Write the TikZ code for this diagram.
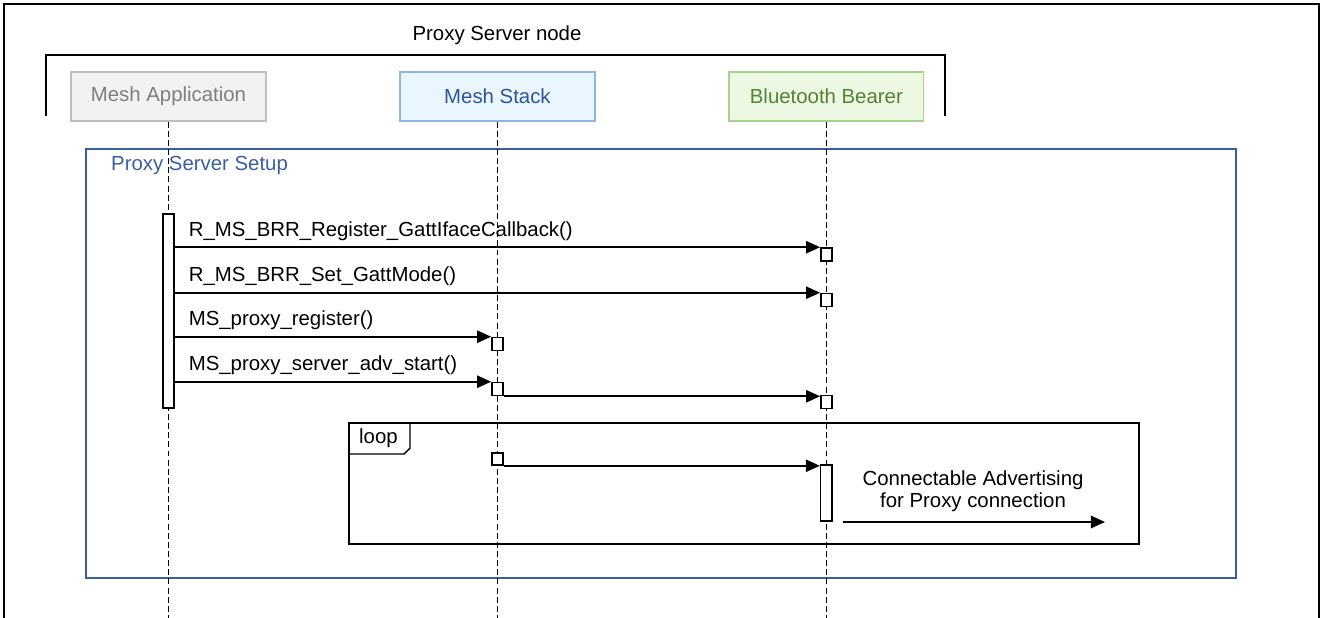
\documentclass[tikz,border=0pt]{standalone}
\usepackage{fontspec}
\setmainfont{Liberation Sans}
\usetikzlibrary{positioning,arrows.meta}
\definecolor{appline}{HTML}{BFBFBF}
\definecolor{appfill}{HTML}{F2F2F2}
\definecolor{apptext}{HTML}{7F7F7F}
\definecolor{stackline}{HTML}{8FB4E3}
\definecolor{stackfill}{HTML}{EAF6FD}
\definecolor{stacktext}{HTML}{2F5597}
\definecolor{bearerline}{HTML}{A9D18E}
\definecolor{bearerfill}{HTML}{EDF8E3}
\definecolor{bearertext}{HTML}{548235}
\definecolor{setupblue}{HTML}{3A5FA0}
\tikzstyle{head}=[
    draw,
    line width = 0.7pt,
    minimum width = 3.9cm,
    minimum height = 0.98cm,
    inner sep = 0pt
]
\tikzstyle{app head}=[head, draw = appline, fill = appfill, text = apptext]
\tikzstyle{stack head}=[head, draw = stackline, fill = stackfill, text = stacktext]
\tikzstyle{bearer head}=[head, draw = bearerline, fill = bearerfill, text = bearertext]
\tikzstyle{lifeline}=[line width = 0.85pt, dash pattern = on 3.4pt off 1.8pt]
\tikzstyle{bar}=[
    draw,
    fill = white,
    line width = 0.9pt,
    minimum width = 0.23cm,
    inner sep = 0pt
]
\tikzstyle{ack}=[bar, minimum width = 0.22cm, minimum height = 0.26cm]
\tikzstyle{call}=[-{Triangle[length=8pt,width=7pt]}, line width = 1pt]

\begin{document}
\begin{tikzpicture}[x=0.02cm, y=-0.02cm, node distance={6.58cm},
    font=\fontsize{11.6}{12.6}\selectfont]
        \useasboundingbox (0,0) rectangle (1322,618);

        % outer frame and node bracket
        \draw[line width = 1.2pt] (4,618) -- (4,4) -- (1319,4) -- (1319,618);
        \node (node label) at (497,35) {Proxy Server node};
        \draw[line width = 1.1pt] (46,116) -- (46,55) -- (945,55) -- (945,116);

        % lifeline heads
        \node[app head] (app) at (168.5,96.5) {Mesh Application};
        \node[stack head] (stack) [right of = app] {Mesh Stack};
        \node[bearer head] (bearer) [right of = stack] {Bluetooth Bearer};

        % setup box
        \draw[setupblue, line width = 1.1pt] (86,149) rectangle (1236,578);
        \node[anchor = west, text = setupblue] (setup) at (105,166) {Proxy Server Setup};

        % loop frame
        \draw[line width = 1pt] (349,423) rectangle (1139,544);
        \draw[line width = 0.8pt] (349,454) -- (404,454) -- (410,448) -- (410,423);
        \node[anchor = west] (loop) at (353,438) {loop};

        % lifelines
        \draw[lifeline] (app.south) -- (app.south |- 0,618);
        \draw[lifeline] (stack.south) -- (stack.south |- 0,618);
        \draw[lifeline] (bearer.south) -- (bearer.south |- 0,618);

        % activations
        \node[bar, minimum height = 3.88cm] (act) at (app.south |- 0,311) {};
        \node[ack] (b1) at (bearer.south |- 0,254.5) {};
        \node[ack] (b2) at (bearer.south |- 0,300) {};
        \node[ack] (s3) at (stack.south |- 0,344) {};
        \node[ack] (s4) at (stack.south |- 0,389) {};
        \node[ack] (b4) at (bearer.south |- 0,402) {};
        \node[ack, minimum height = 0.24cm] (l1) at (stack.south |- 0,459) {};
        \node[bar, minimum height = 1.12cm] (adv) at (bearer.south |- 0,493) {};

        % messages
        \draw[call] (act.east |- b1.north) -- (b1.north west)
            node [pos = 0, above right, xshift = 4pt] {R\_MS\_BRR\_Register\_GattIfaceCallback()};
        \draw[call] (act.east |- b2.north) -- (b2.north west)
            node [pos = 0, above right, xshift = 4pt] {R\_MS\_BRR\_Set\_GattMode()};
        \draw[call] (act.east |- s3.north) -- (s3.north west)
            node [pos = 0, above right, xshift = 4pt] {MS\_proxy\_register()};
        \draw[call] (act.east |- s4.north) -- (s4.north west)
            node [pos = 0, above right, xshift = 4pt] {MS\_proxy\_server\_adv\_start()};
        \draw[call] (s4.south east) -- (s4.south east -| b4.west);
        \draw[call] (l1.south east) -- (l1.south east -| adv.west);

        % advertising
        \node[align = center] (adv text) at (973,491) {Connectable Advertising\\for Proxy connection};
        \coordinate (adv start) at (843,522);
        \coordinate (adv end) at (1105,522);
        \draw[call] (adv start) -- (adv end);

    \end{tikzpicture}
\end{document}
